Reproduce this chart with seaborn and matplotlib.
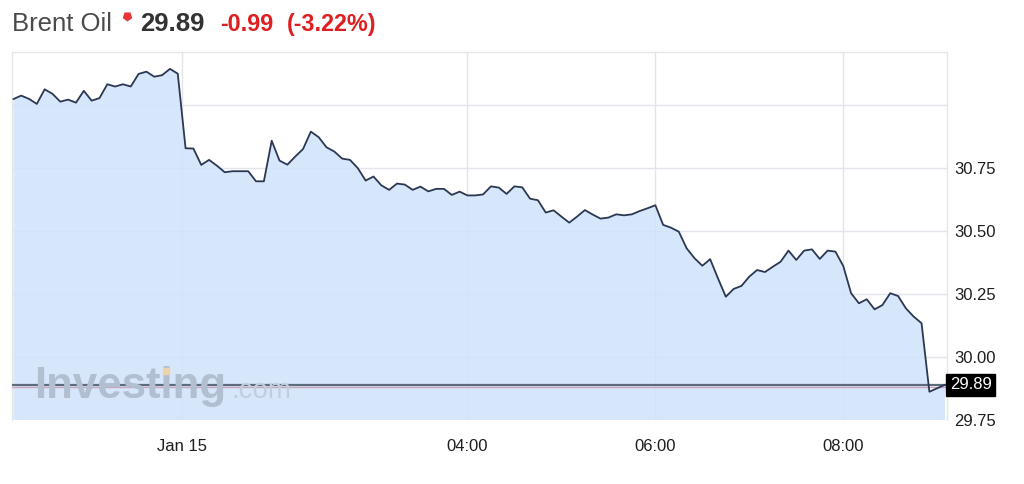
import numpy as np
import pandas as pd
import matplotlib
matplotlib.use("Agg")
import matplotlib.pyplot as plt
import matplotlib.transforms as mtransforms
from matplotlib.lines import Line2D
import seaborn as sns

# ---- data (5-minute bars) ----
prices = [
    31.023, 31.037, 31.024, 31.004, 31.062, 31.044, 31.013, 31.021, 31.009, 31.056,
    31.017, 31.027, 31.082, 31.073, 31.082, 31.073, 31.123, 31.132, 31.112, 31.118,
    31.143, 31.124,
    30.828, 30.827, 30.762, 30.782, 30.759, 30.733, 30.737, 30.737, 30.737, 30.697,
    30.697, 30.858, 30.779, 30.763, 30.795, 30.825, 30.894, 30.872, 30.832, 30.815,
    30.787, 30.782, 30.749, 30.700, 30.716, 30.681, 30.663, 30.688, 30.684, 30.663,
    30.676, 30.657, 30.667, 30.667, 30.643, 30.656, 30.641, 30.641, 30.645, 30.677,
    30.672, 30.647, 30.677, 30.673, 30.628, 30.622, 30.573, 30.582, 30.557, 30.533,
    30.557, 30.583, 30.565, 30.549, 30.553, 30.566, 30.562, 30.566, 30.579, 30.590,
    30.602, 30.524, 30.513, 30.497, 30.431, 30.392, 30.362, 30.388, 30.312, 30.239,
    30.270, 30.282, 30.319, 30.345, 30.337, 30.358, 30.378, 30.422, 30.385, 30.422,
    30.427, 30.389, 30.422, 30.418, 30.361, 30.253, 30.213, 30.229, 30.189, 30.206,
    30.253, 30.242, 30.193, 30.160, 30.134, 29.862, 29.876, 29.890,
]
evening_start = "2016-01-14 21:10"
evening_bars = 22
morning_start = "2016-01-15 01:00"
tick_times = ["2016-01-15 01:00", "2016-01-15 04:00", "2016-01-15 06:00", "2016-01-15 08:00"]
tick_labels = ["Jan 15", "04:00", "06:00", "08:00"]
y_ticks = [29.75, 30.00, 30.25, 30.50, 30.75, 31.00]
y_tick_labels = ["29.75", "30.00", "30.25", "30.50", "30.75", ""]
instrument = "Brent Oil"
last_price = 29.89
change = "-0.99"
change_pct = "(-3.22%)"

times = list(pd.date_range(evening_start, periods=evening_bars, freq="5min")) + \
        list(pd.date_range(morning_start, periods=len(prices) - evening_bars, freq="5min"))
df = pd.DataFrame({"bar": np.arange(len(prices)), "price": prices, "time": times})
tick_pos = [int(df.index[df["time"] == pd.Timestamp(t)][0]) for t in tick_times]
# the session gap line sits just before the first bar of the day
tick_pos[0] -= 0.45

# ---- style ----
sns.set_theme(style="white")
plt.rcParams["font.family"] = ["Liberation Sans", "DejaVu Sans"]

W, H = 1024, 484
fig = plt.figure(figsize=(W / 100, H / 100), dpi=100)
ax = fig.add_axes([12 / W, 1 - 420 / H, (947 - 12) / W, (420 - 52) / H])

line_color = "#2c3852"
fill_color = "#d0e3fb"

ax.fill_between(df["bar"], df["price"], 29.0, color=fill_color, alpha=0.85, lw=0, zorder=1)
sns.lineplot(data=df, x="bar", y="price", ax=ax, color=line_color, lw=1.3, zorder=4)

ax.set_xlim(-0.17, len(prices) - 0.75)
ax.set_ylim(29.75, 31.21)

ax.set_xticks(tick_pos)
ax.set_xticklabels(tick_labels)
ax.set_yticks(y_ticks)
ax.set_yticklabels(y_tick_labels)
ax.yaxis.tick_right()
ax.tick_params(axis="y", length=0, pad=5, labelsize=12, labelcolor="#1e1e1e")
ax.tick_params(axis="x", length=0, pad=14, labelsize=12, labelcolor="#1e1e1e")
ax.set_xlabel("")
ax.set_ylabel("")
ax.grid(True, color="#e2e5eb", lw=1)
ax.set_axisbelow(True)
for s in ["top", "left", "right"]:
    ax.spines[s].set_color("#e6e6e6")
    ax.spines[s].set_linewidth(1)
ax.spines["bottom"].set_visible(False)

# last price lines
ax.axhline(last_price, color="#5e6b7c", lw=1.6, zorder=3)
pink_tr = mtransforms.offset_copy(ax.transData, fig=fig, y=-2.6, units="dots")
ax.plot([-1, len(prices) + 1], [last_price, last_price], color="#c9a6b8", lw=1.0,
        transform=pink_tr, zorder=3)
blend = mtransforms.blended_transform_factory(ax.transAxes, ax.transData)
ax.text(1.003, last_price, f"{last_price:.2f}", transform=blend, ha="left", va="center",
        color="white", fontsize=12, zorder=6, clip_on=False,
        bbox=dict(boxstyle="square,pad=0.22", fc="black", ec="black"))

# watermark
fig.text(34 / W, 1 - 398 / H, "Investing", fontsize=31.5, fontweight="bold",
         color="#b2bfd0", va="baseline", ha="left", zorder=2)
fig.text(231 / W, 1 - 398 / H, ".com", fontsize=20,
         color="#c2cede", va="baseline", ha="left", zorder=2)
fig.add_artist(Line2D([166 / W], [1 - 371 / H], marker="s", markersize=4.3,
                      color="#eed3aa", transform=fig.transFigure, lw=0, zorder=3))

# header
base_y = 1 - 31 / H
fig.text(12 / W, base_y, instrument, fontsize=18.5, color="#4a4a4a", va="baseline", ha="left")
fig.add_artist(Line2D([127 / W], [1 - 16 / H], marker=(5, 0, 180), markersize=6,
                      color="#e8343a", transform=fig.transFigure, lw=0))
fig.text(140 / W, base_y, f"{last_price:.2f}", fontsize=18.5, fontweight="bold",
         color="#333333", va="baseline", ha="left")
fig.text(220 / W, base_y, change, fontsize=16.8, fontweight="bold",
         color="#de1f1f", va="baseline", ha="left")
fig.text(287 / W, base_y, change_pct, fontsize=16.8, fontweight="bold",
         color="#de1f1f", va="baseline", ha="left")

fig.savefig("out.png", dpi=100, facecolor="white")
